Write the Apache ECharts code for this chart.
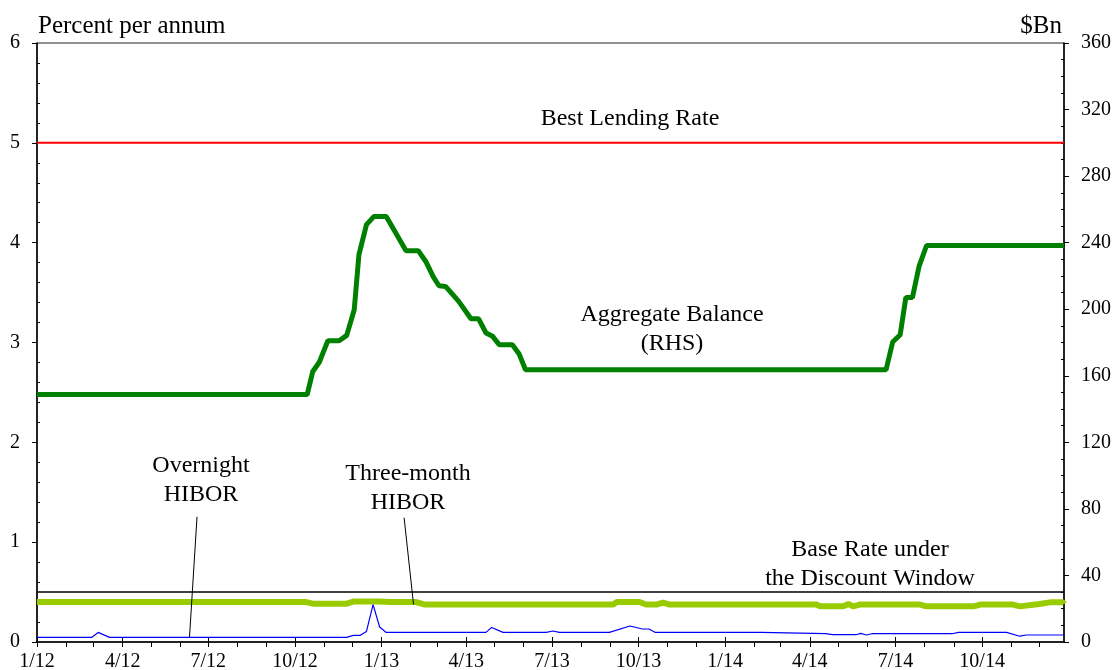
<!DOCTYPE html>
<html>
<head>
<meta charset="utf-8">
<script src="https://cdn.jsdelivr.net/npm/echarts@6.0.0/dist/echarts.min.js"></script>
<style>
  html, body { margin: 0; padding: 0; background: #fff; }
  #chart { width: 1116px; height: 670px; }
</style>
</head>
<body>
<div id="chart"></div>
<script>
// ---- data ----
const aggDates = ['2012-01-01','2012-10-14','2012-10-20','2012-10-27','2012-11-05','2012-11-17','2012-11-25','2012-12-03','2012-12-08','2012-12-16','2012-12-24','2013-01-06','2013-01-27','2013-02-09','2013-02-17','2013-02-25','2013-03-03','2013-03-10','2013-03-24','2013-04-06','2013-04-14','2013-04-22','2013-04-29','2013-05-06','2013-05-20','2013-05-27','2013-06-03','2014-06-21','2014-06-28','2014-07-06','2014-07-12','2014-07-19','2014-07-26','2014-08-03','2014-12-27'];
const aggValues = [148.7,148.7,162.6,168.3,181.1,181.1,184.3,199.7,232.8,250.8,255.8,255.8,235.2,235.2,228.7,219.4,214.1,213.7,204.7,194.3,194.3,185.7,183.7,178.7,178.7,173.3,163.6,163.6,180.3,184.7,207.1,207.1,225.7,238.3,238.3];

const hibor3mDates = ['2012-01-01','2012-10-13','2012-10-20','2012-11-25','2012-12-02','2012-12-30','2013-01-10','2013-02-07','2013-02-16','2013-09-04','2013-09-08','2013-10-02','2013-10-09','2013-10-20','2013-10-27','2013-11-03','2014-04-08','2014-04-12','2014-05-06','2014-05-12','2014-05-17','2014-05-24','2014-07-27','2014-08-03','2014-09-22','2014-09-29','2014-11-03','2014-11-10','2014-12-01','2014-12-12','2014-12-26','2014-12-27'];
const hibor3mValues = [0.40,0.40,0.384,0.384,0.405,0.405,0.40,0.40,0.375,0.375,0.40,0.40,0.375,0.375,0.395,0.375,0.375,0.357,0.357,0.38,0.357,0.375,0.375,0.357,0.357,0.375,0.375,0.357,0.38,0.397,0.397,0.38];

const hiborOnDates = ['2012-01-01','2012-02-28','2012-03-06','2012-03-18','2012-11-25','2012-12-02','2012-12-09','2012-12-16','2012-12-23','2012-12-30','2013-01-06','2013-04-22','2013-04-28','2013-05-10','2013-06-25','2013-07-02','2013-07-09','2013-08-31','2013-09-22','2013-10-05','2013-10-12','2013-10-19','2014-02-08','2014-02-10','2014-04-18','2014-04-25','2014-05-20','2014-05-25','2014-05-31','2014-06-06','2014-08-30','2014-09-06','2014-10-27','2014-11-10','2014-11-17','2014-12-27'];
const hiborOnValues = [0.046,0.046,0.096,0.046,0.046,0.066,0.066,0.106,0.374,0.15,0.096,0.096,0.146,0.096,0.096,0.11,0.096,0.096,0.16,0.13,0.13,0.096,0.096,0.083,0.083,0.073,0.073,0.087,0.07,0.083,0.083,0.096,0.096,0.058,0.07,0.07];

const flatDates = ['2012-01-01','2014-12-27'];
const baseRateValues = [0.5, 0.5];
const bestLendingValues = [5, 5];

// label pointer lines [date, percent]
const overnightPointer = [['2012-06-19', 1.255], ['2012-06-11', 0.046]];
const threeMonthPointer = [['2013-01-25', 1.245], ['2013-02-04', 0.375]];

const quarterDates = ['2012-01-01','2012-04-01','2012-07-01','2012-10-01','2013-01-01','2013-04-01','2013-07-01','2013-10-01','2014-01-01','2014-04-01','2014-07-01','2014-10-01'];
const quarterLabels = ['1/12','4/12','7/12','10/12','1/13','4/13','7/13','10/13','1/14','4/14','7/14','10/14'];

// ---- helpers ----
function ts(s) {
    const [y, m, d] = s.split('-').map(Number);
    return Date.UTC(y, m - 1, d);
}
const pairs = (dates, vals) => dates.map((d, i) => [ts(d), vals[i]]);

const xMin = ts('2012-01-01');
const xMax = ts('2014-12-27');

const monthTicks = [];
for (let y = 2012; y <= 2014; y++) {
    for (let m = 0; m < 12; m++) monthTicks.push(Date.UTC(y, m, 1));
}
const quarterTicks = quarterDates.map(ts);
const labelFor = {};
quarterTicks.forEach((t, i) => { labelFor[t] = quarterLabels[i]; });

const FONT = "'Liberation Serif', 'Times New Roman', serif";
const BLACK = '#000';

const chart = echarts.init(document.getElementById('chart'));

function lineSeries(name, data, color, width, yIdx) {
    return {
        name: name,
        type: 'line',
        data: data,
        yAxisIndex: yIdx || 0,
        symbol: 'none',
        silent: true,
        lineStyle: { color: color, width: width },
        z: 3
    };
}

function textEl(txt, x, y, align, size) {
    return {
        type: 'text',
        x: x,
        y: y,
        silent: true,
        style: {
            text: txt,
            font: (size || 24) + 'px ' + FONT,
            fill: '#000',
            textAlign: align || 'center',
            textVerticalAlign: 'middle',
            align: align || 'center',
            verticalAlign: 'middle',
            lineHeight: 29
        }
    };
}

chart.setOption({
    animation: false,
    backgroundColor: '#fff',
    grid: {
        left: 37, right: 52, top: 43, bottom: 28,
        show: true, borderColor: '#222', borderWidth: 1,
        outerBoundsMode: 'none'
    },
    xAxis: [
        {
            type: 'value',
            min: xMin,
            max: xMax,
            axisLine: { lineStyle: { color: BLACK, width: 1.5 } },
            axisTick: { show: true, customValues: monthTicks, length: 5, lineStyle: { color: BLACK } },
            axisLabel: {
                customValues: quarterTicks,
                formatter: v => labelFor[v] || '',
                fontFamily: FONT, fontSize: 20, color: BLACK, margin: 10
            },
            splitLine: { show: false }
        },
        {
            type: 'value',
            min: xMin,
            max: xMax,
            position: 'bottom',
            axisLine: { show: false },
            axisTick: { show: true, inside: true, customValues: quarterTicks, length: 5, lineStyle: { color: BLACK } },
            axisLabel: { show: false },
            splitLine: { show: false }
        }
    ],
    yAxis: [
        {
            type: 'value', position: 'left', min: 0, max: 6, interval: 1,
            axisLine: { show: true, lineStyle: { color: BLACK, width: 1.5 } },
            axisTick: { show: true, length: 5, lineStyle: { color: BLACK } },
            axisLabel: { fontFamily: FONT, fontSize: 20, color: BLACK, margin: 17 },
            splitLine: { show: false }
        },
        {
            type: 'value', position: 'right', min: 0, max: 360, interval: 40,
            axisLine: { show: true, lineStyle: { color: BLACK, width: 1.5 } },
            axisTick: { show: true, length: 5, lineStyle: { color: BLACK } },
            axisLabel: { fontFamily: FONT, fontSize: 20, color: BLACK, margin: 17 },
            splitLine: { show: false }
        },
        {
            // minor ticks pointing inward, left
            type: 'value', position: 'left', min: 0, max: 6, interval: 1,
            axisLine: { show: false },
            axisTick: { show: false, inside: true },
            minorTick: { show: true, splitNumber: 5, length: 3, lineStyle: { color: BLACK } },
            axisLabel: { show: false },
            splitLine: { show: false }
        },
        {
            // minor ticks pointing inward, right
            type: 'value', position: 'right', min: 0, max: 360, interval: 40,
            axisLine: { show: false },
            axisTick: { show: false, inside: true },
            minorTick: { show: true, splitNumber: 4, length: 3, lineStyle: { color: BLACK } },
            axisLabel: { show: false },
            splitLine: { show: false }
        }
    ],
    series: [
        lineSeries('Best Lending Rate', pairs(flatDates, bestLendingValues), '#ff0000', 2),
        lineSeries('Base Rate under the Discount Window', pairs(flatDates, baseRateValues), BLACK, 1.5),
        lineSeries('Three-month HIBOR', pairs(hibor3mDates, hibor3mValues), '#99cc00', 6),
        lineSeries('Overnight HIBOR', pairs(hiborOnDates, hiborOnValues), '#0000ff', 1.2),
        lineSeries('Aggregate Balance (RHS)', pairs(aggDates, aggValues), '#008000', 5, 1),
        lineSeries('', overnightPointer.map(p => [ts(p[0]), p[1]]), BLACK, 1),
        lineSeries('', threeMonthPointer.map(p => [ts(p[0]), p[1]]), BLACK, 1)
    ],
    graphic: [
        textEl('Percent per annum', 38, 26, 'left', 25),
        textEl('$Bn', 1062, 26, 'right', 25),
        textEl('Best Lending Rate', 630, 119),
        textEl('Aggregate Balance\n(RHS)', 672, 329),
        textEl('Overnight\nHIBOR', 201, 480),
        textEl('Three-month\nHIBOR', 408, 488),
        textEl('Base Rate under\nthe Discount Window', 870, 564)
    ]
});
</script>
</body>
</html>
